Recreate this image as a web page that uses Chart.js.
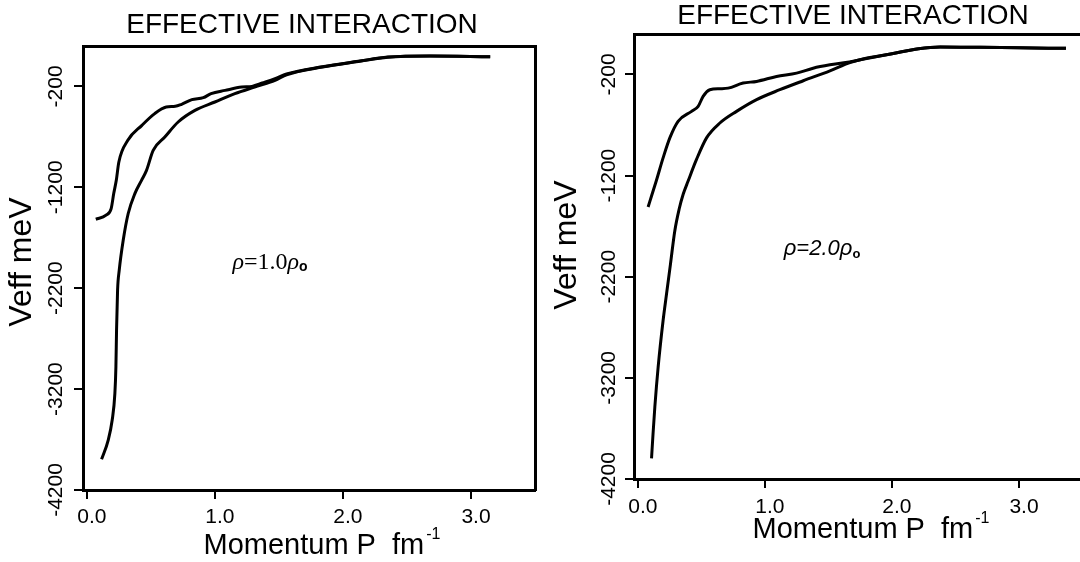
<!DOCTYPE html>
<html>
<head>
<meta charset="utf-8">
<title>Effective interaction</title>
<script src="https://cdn.jsdelivr.net/npm/chart.js@4.4.1/dist/chart.umd.min.js"></script>
<style>
  html, body { margin: 0; padding: 0; background: #fff; }
  body { width: 1080px; height: 562px; overflow: hidden; position: relative; }
  canvas { position: absolute; top: 0; }
</style>
</head>
<body>
<canvas id="left-chart" width="560" height="562" style="left:0px"></canvas>
<canvas id="right-chart" width="560" height="562" style="left:540px"></canvas>
<script>
// ---- data ----
const titleText = 'EFFECTIVE INTERACTION';
const xTitle = 'Momentum P  fm';
const xTitleSup = '-1';
const yTitle = 'Veff meV';

const xTickValues = [0, 1, 2, 3];
const xTickLabels = ['0.0', '1.0', '2.0', '3.0'];
const yTickValues = [-200, -1200, -2200, -3200, -4200];
const yTickLabels = ['-200', '-1200', '-2200', '-3200', '-4200'];

// rho = 1.0 rho0
const leftUpperP = [0.07, 0.15, 0.19, 0.21, 0.23, 0.25, 0.32, 0.43, 0.53, 0.62, 0.69, 0.74, 0.82, 0.91, 0.97, 1.08, 1.21, 1.29, 1.37, 1.47, 1.56, 1.84, 2.12, 2.35, 2.68, 3.15];
const leftUpperV = [-1517, -1477, -1411, -1262, -1131, -949, -735, -586, -470, -405, -398, -378, -332, -312, -272, -240, -207, -200, -167, -124, -77, -6, 48, 90, 101, 93];
const leftLowerP = [0.115, 0.167, 0.198, 0.219, 0.227, 0.232, 0.24, 0.253, 0.284, 0.323, 0.375, 0.427, 0.466, 0.518, 0.609, 0.713, 0.844, 1.0, 1.156, 1.31, 1.47, 1.56, 1.84, 2.12, 2.35, 2.68, 3.15];
const leftLowerV = [-3896, -3705, -3507, -3243, -2979, -2616, -2220, -2022, -1725, -1460, -1263, -1131, -1032, -834, -702, -553, -438, -355, -272, -207, -141, -85, -8, 46, 88, 100, 93];

// rho = 2.0 rho0
const rightUpperP = [0.081, 0.108, 0.145, 0.199, 0.252, 0.317, 0.423, 0.475, 0.514, 0.567, 0.646, 0.711, 0.829, 0.935, 1.092, 1.25, 1.38, 1.512, 1.65, 1.78, 2.0, 2.21, 2.38, 2.7, 3.0, 3.37];
const rightUpperV = [-1510, -1402, -1254, -1025, -827, -663, -565, -515, -417, -351, -341, -335, -285, -269, -220, -187, -138, -105, -80, -48, 5, 55, 72, 68, 63, 58];
const rightLowerP = [0.108, 0.12, 0.134, 0.16, 0.199, 0.226, 0.257, 0.291, 0.325, 0.357, 0.396, 0.462, 0.541, 0.646, 0.777, 0.935, 1.118, 1.302, 1.512, 1.67, 1.78, 2.0, 2.21, 2.38, 2.7, 3.0, 3.37];
const rightLowerV = [-3996, -3750, -3488, -3094, -2633, -2371, -2075, -1747, -1533, -1385, -1254, -1040, -827, -680, -565, -449, -351, -262, -164, -82, -45, 5, 55, 72, 68, 63, 58];

const SANS = '"Liberation Sans", Arial, Helvetica, sans-serif';
const SERIF = '"Liberation Serif", "Times New Roman", serif';

function toPoints(ps, vs) {
    return ps.map((p, i) => ({ x: p, y: vs[i] }));
}

function curve(ps, vs) {
    return {
        data: toPoints(ps, vs),
        borderColor: '#000',
        borderWidth: 3,
        pointRadius: 0,
        fill: false,
        cubicInterpolationMode: 'monotone'
    };
}

function drawPanelText(chart, L) {
    const ctx = chart.ctx;
    const xs = chart.scales.x;
    const ys = chart.scales.y;
    ctx.save();
    ctx.fillStyle = '#000';
    ctx.textAlign = 'center';
    ctx.textBaseline = 'middle';

    ctx.font = '28px ' + SANS;
    ctx.fillText(titleText, L.titleX, L.titleY);

    // tick labels
    ctx.font = '21px ' + SANS;
    yTickValues.forEach((v, i) => {
        ctx.save();
        ctx.translate(L.yLabelX, ys.getPixelForValue(v));
        ctx.rotate(-Math.PI / 2);
        ctx.fillText(yTickLabels[i], 0, 0);
        ctx.restore();
    });
    xTickValues.forEach((v, i) => {
        ctx.fillText(xTickLabels[i], xs.getPixelForValue(v) + 5, L.xLabelY);
    });

    // axis titles
    ctx.font = '32px ' + SANS;
    ctx.save();
    ctx.translate(L.yTitleX, L.yTitleY);
    ctx.rotate(-Math.PI / 2);
    ctx.fillText(yTitle, 0, 0);
    ctx.restore();

    ctx.textAlign = 'left';
    ctx.textBaseline = 'alphabetic';
    ctx.font = '29px ' + SANS;
    const w1 = ctx.measureText(xTitle).width;
    ctx.font = '16px ' + SANS;
    const w2 = ctx.measureText(xTitleSup).width;
    const sx = L.xTitleX - (w1 + 2 + w2) / 2;
    ctx.font = '29px ' + SANS;
    ctx.fillText(xTitle, sx, L.xTitleBase);
    ctx.font = '16px ' + SANS;
    ctx.fillText(xTitleSup, sx + w1 + 2, L.xTitleBase - 15);

    // density label, placed in data coordinates
    const parts = L.note;
    let total = 0;
    parts.forEach(p => { ctx.font = p.font; total += ctx.measureText(p.t).width; });
    let nx = xs.getPixelForValue(L.noteP) - total / 2;
    const ny = ys.getPixelForValue(L.noteV);
    ctx.textBaseline = 'middle';
    parts.forEach(p => {
        ctx.font = p.font;
        ctx.fillText(p.t, nx, ny + (p.dy || 0));
        nx += ctx.measureText(p.t).width;
    });
    ctx.restore();
}

function buildChart(canvasId, upper, lower, L) {
    const frame = { display: true, color: '#000', width: 3 };
    const tickMarks = { display: true, drawOnChartArea: false, drawTicks: true, tickLength: 9, color: '#000', lineWidth: 2 };
    return new Chart(document.getElementById(canvasId), {
        type: 'line',
        data: { datasets: [curve(upper[0], upper[1]), curve(lower[0], lower[1])] },
        options: {
            responsive: false,
            animation: false,
            events: [],
            layout: { padding: 0 },
            plugins: { legend: { display: false }, tooltip: { enabled: false }, title: { display: false } },
            scales: {
                x: {
                    type: 'linear', position: 'bottom', min: -0.03, max: 3.5,
                    afterBuildTicks: s => { s.ticks = xTickValues.map(v => ({ value: v })); },
                    afterFit: s => { s.height = L.bottomH; },
                    ticks: { display: false },
                    grid: tickMarks, border: frame
                },
                y: {
                    type: 'linear', position: 'left', min: -4200, max: 200,
                    afterBuildTicks: s => { s.ticks = yTickValues.map(v => ({ value: v })); },
                    afterFit: s => { s.width = L.leftW; },
                    ticks: { display: false },
                    grid: tickMarks, border: frame
                },
                xTop: {
                    type: 'linear', position: 'top', min: -0.03, max: 3.5,
                    afterFit: s => { s.height = L.topH; },
                    ticks: { display: false }, grid: { display: false }, border: frame
                },
                yRight: {
                    type: 'linear', position: 'right', min: -4200, max: 200,
                    afterFit: s => { s.width = L.rightW; },
                    ticks: { display: false }, grid: { display: false }, border: frame
                }
            }
        },
        plugins: [{ id: 'panelText', afterDraw: chart => drawPanelText(chart, L) }]
    });
}

buildChart('left-chart', [leftUpperP, leftUpperV], [leftLowerP, leftLowerV], {
    leftW: 83, rightW: 25, topH: 46, bottomH: 72,
    titleX: 302, titleY: 25,
    yLabelX: 56, xLabelY: 517,
    yTitleX: 22, yTitleY: 262,
    xTitleX: 322, xTitleBase: 554,
    noteP: 1.43, noteV: -1943,
    note: [
        { t: '\u03C1', font: 'italic 24px ' + SERIF },
        { t: '=1.0', font: '24px ' + SERIF },
        { t: '\u03C1', font: 'italic 24px ' + SERIF },
        { t: 'o', font: 'bold 14px ' + SANS, dy: 5 }
    ]
});

buildChart('right-chart', [rightUpperP, rightUpperV], [rightLowerP, rightLowerV], {
    leftW: 94, rightW: 17.5, topH: 34, bottomH: 83,
    titleX: 313, titleY: 16,
    yLabelX: 69, xLabelY: 507,
    yTitleX: 27, yTitleY: 245,
    xTitleX: 331, xTitleBase: 538,
    noteP: 1.45, noteV: -1929,
    note: [
        { t: '\u03C1', font: 'italic 22px ' + SANS },
        { t: '=2.0', font: 'italic 22px ' + SANS },
        { t: '\u03C1', font: 'italic 22px ' + SANS },
        { t: 'o', font: 'bold 13px ' + SANS, dy: 5 }
    ]
});
</script>
</body>
</html>
